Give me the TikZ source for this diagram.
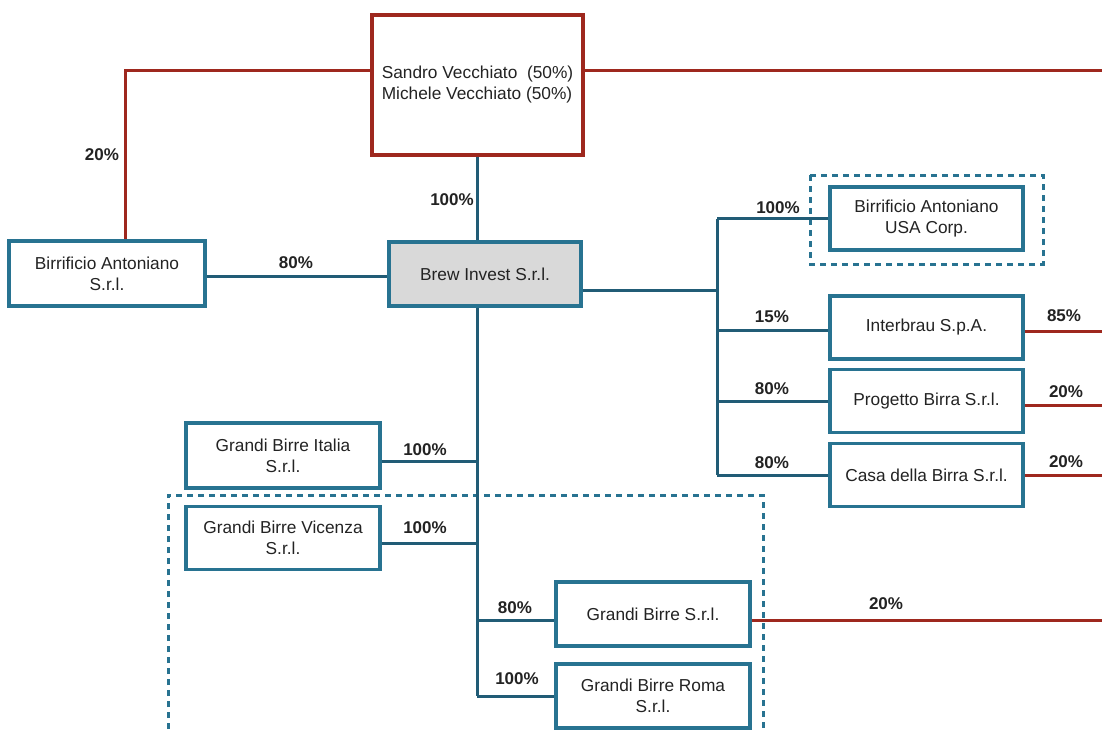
\documentclass[tikz,border=0pt]{standalone}
\usepackage{fontspec}
\setmainfont{Liberation Sans}
\definecolor{boxteal}{RGB}{40,115,145}
\definecolor{lineteal}{RGB}{33,92,118}
\definecolor{ownred}{RGB}{158,40,30}
\definecolor{brewgray}{RGB}{217,217,217}
\definecolor{txt}{RGB}{35,35,35}
\begin{document}
\begin{tikzpicture}[x=1pt,y=-1pt,
  font=\fontsize{17.3}{21}\selectfont, text=txt,
  cbox/.style={draw=boxteal, line width=3.2pt, fill=white, minimum width=194pt, minimum height=64pt, align=center, inner sep=0pt},
  tl/.style={draw=lineteal, line width=3pt},
  rl/.style={draw=ownred, line width=3pt},
  pct/.style={font=\fontsize{17}{20}\selectfont\bfseries, inner sep=0pt},
  dbox/.style={draw=boxteal, line width=3pt, dash pattern=on 6pt off 5pt}]
\useasboundingbox (0,0) rectangle (1102,729);
\fill[white] (0,0) rectangle (1102,729);

% dashed groups
\draw[dbox] (168,729) -- (168,495) -- (763,495) -- (763,729);
\draw[dbox] (810,175) rectangle (1043,264);

% nodes
\node[cbox, draw=ownred, minimum width=211pt, minimum height=140pt, align=left] (own) at (477.5,85)
  {Sandro Vecchiato\ \ (50\%)\\Michele Vecchiato (50\%)};
\node[cbox, minimum width=196pt, minimum height=65pt] (ba) at (107,273.5) {Birrificio Antoniano\\S.r.l.};
\node[cbox, fill=brewgray, minimum width=192pt] (brew) at (485,274) {Brew Invest S.r.l.};
\node[cbox, minimum width=193pt, minimum height=63pt] (usa) at (926.5,218.5) {Birrificio Antoniano\\USA Corp.};
\node[cbox, minimum width=193pt, minimum height=63pt] (inter) at (926.5,327.5) {Interbrau S.p.A.};
\node[cbox, minimum width=193pt, minimum height=63pt] (prog) at (926.5,401) {Progetto Birra S.r.l.};
\node[cbox, minimum width=193pt, minimum height=63pt] (casa) at (926.5,475) {Casa della Birra S.r.l.};
\node[cbox, minimum height=65pt] (gbi) at (283,455.5) {Grandi Birre Italia\\S.r.l.};
\node[cbox, minimum height=63pt] (gbv) at (283,538) {Grandi Birre Vicenza\\S.r.l.};
\node[cbox] (gbs) at (653,614) {Grandi Birre S.r.l.};
\node[cbox] (gbr) at (653,696) {Grandi Birre Roma\\S.r.l.};

% edge coordinates
\coordinate (redR) at (1102,70);
\coordinate (redL) at (125,70);
\coordinate (bus) at (717,290);
\coordinate (trunk) at (477,696);
\coordinate (rEdge) at (1102,0);

% red ownership lines
\draw[rl] ([yshift=15pt]own.west) -- (redL) -- (ba.north -| redL);
\draw[rl] ([yshift=15pt]own.east) -- (redR);
\draw[rl] ([yshift=-4pt]inter.east) -- ([yshift=-4pt]inter.east -| rEdge);
\draw[rl] ([yshift=-4pt]prog.east) -- ([yshift=-4pt]prog.east -| rEdge);
\draw[rl] (casa.east) -- (casa.east -| rEdge);
\draw[rl] ([yshift=-6pt]gbs.east) -- ([yshift=-6pt]gbs.east -| rEdge);

% teal lines
\draw[tl] (own.south -| trunk) -- (brew.north -| trunk);
\draw[tl] ([yshift=-3pt]ba.east) -- ([yshift=-3pt]ba.east -| brew.west);
\draw[tl] ([yshift=-16pt]brew.east) -- ([yshift=-16pt]brew.east -| bus);
\draw[tl] (usa.west -| bus) -- (casa.west -| bus);
\draw[tl] (usa.west -| bus) -- (usa.west);
\draw[tl] ([yshift=-3pt]inter.west -| bus) -- ([yshift=-3pt]inter.west);
\draw[tl] (prog.west -| bus) -- (prog.west);
\draw[tl] (casa.west -| bus) -- (casa.west);
\draw[tl] (brew.south -| trunk) -- (trunk);
\draw[tl] ([yshift=-6pt]gbi.east) -- ([yshift=-6pt]gbi.east -| trunk);
\draw[tl] ([yshift=-5pt]gbv.east) -- ([yshift=-5pt]gbv.east -| trunk);
\draw[tl] ([yshift=-6pt]gbs.west -| trunk) -- ([yshift=-6pt]gbs.west);
\draw[tl] (gbr.west -| trunk) -- (gbr.west);

% labels
\node[pct] (l1) at (102,155) {20\%};
\node[pct] (l2) at (452,200) {100\%};
\node[pct] (l3) at (296,263) {80\%};
\node[pct] (l4) at (778,208) {100\%};
\node[pct] (l5) at (772,317) {15\%};
\node[pct] (l6) at (1064,316) {85\%};
\node[pct] (l7) at (772,389) {80\%};
\node[pct] (l8) at (1066,392) {20\%};
\node[pct] (l9) at (772,463) {80\%};
\node[pct] (l10) at (1066,462) {20\%};
\node[pct] (l11) at (425,450) {100\%};
\node[pct] (l12) at (425,528) {100\%};
\node[pct] (l13) at (515,608) {80\%};
\node[pct] (l14) at (886,604) {20\%};
\node[pct] (l15) at (517,679) {100\%};
\end{tikzpicture}
\end{document}
